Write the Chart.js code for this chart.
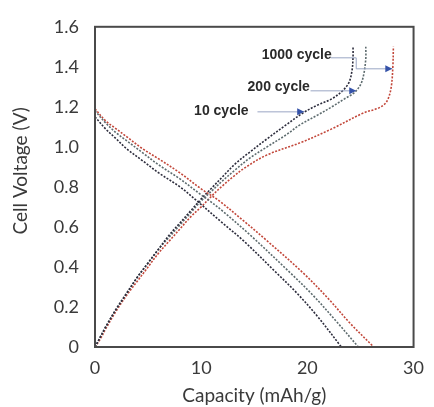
<!DOCTYPE html>
<html>
<head>
<meta charset="utf-8">
<script src="https://cdn.jsdelivr.net/npm/chart.js@4"></script>
<style>
  html, body { margin: 0; padding: 0; background: #fff; }
  #wrap { width: 434px; height: 407px; }
</style>
</head>
<body>
<div id="wrap"><canvas id="graph"></canvas></div>
<script>
// discharge curves (capacity mAh/g, voltage V)
const dis10Cap = [0, 1, 2, 3, 4.5, 6, 8, 9.6, 12, 14, 17.1, 19, 21, 23.2];
const dis10V = [1.15, 1.09, 1.04, 0.99, 0.93, 0.87, 0.80, 0.73, 0.62, 0.53, 0.37, 0.27, 0.15, 0];
const dis200Cap = [0, 1, 2, 3, 4.5, 6, 8, 10, 10.8, 12, 14.6, 18.4, 20.5, 22.7, 24.8];
const dis200V = [1.18, 1.12, 1.07, 1.03, 0.97, 0.91, 0.84, 0.76, 0.73, 0.68, 0.56, 0.37, 0.26, 0.13, 0];
const dis1000Cap = [0, 1, 2, 3, 4.5, 6, 8, 10, 11.7, 14, 16, 19.6, 22, 24, 26.25];
const dis1000V = [1.19, 1.13, 1.09, 1.05, 0.99, 0.94, 0.87, 0.79, 0.73, 0.63, 0.54, 0.37, 0.24, 0.12, 0];

// charge curves
const ch10Cap = [0, 0.5, 1, 2, 3, 4, 5, 6, 7, 8, 9, 10, 11, 12, 13.2, 14.6, 16.2, 18, 19.6, 21, 22.3, 23.3, 23.9, 24.2, 24.3, 24.3];
const ch10V = [0, 0.05, 0.1, 0.19, 0.27, 0.35, 0.42, 0.49, 0.56, 0.62, 0.68, 0.74, 0.795, 0.85, 0.915, 0.975, 1.04, 1.11, 1.17, 1.21, 1.24, 1.28, 1.32, 1.38, 1.45, 1.5];
const ch200Cap = [0, 0.5, 1, 2, 3, 4, 5, 6, 7, 8, 9, 10, 11, 12, 13.2, 14.6, 16.2, 18, 19.3, 21, 22.3, 23.5, 24.4, 25, 25.3, 25.5, 25.5];
const ch200V = [0, 0.05, 0.1, 0.19, 0.27, 0.35, 0.42, 0.49, 0.55, 0.61, 0.67, 0.73, 0.78, 0.83, 0.885, 0.945, 1.0, 1.06, 1.11, 1.16, 1.20, 1.24, 1.27, 1.31, 1.36, 1.44, 1.5];
const ch1000Cap = [0, 0.5, 1, 2, 3, 4, 5, 6, 7, 8, 9, 10, 11, 12, 13, 14.1, 16.2, 19.3, 22.3, 25.3, 26.5, 27.2, 27.6, 27.9, 28.05, 28.1];
const ch1000V = [0, 0.04, 0.09, 0.18, 0.26, 0.33, 0.40, 0.47, 0.53, 0.59, 0.65, 0.70, 0.755, 0.805, 0.85, 0.895, 0.96, 1.02, 1.09, 1.17, 1.19, 1.21, 1.24, 1.30, 1.40, 1.5];

// annotations (data units)
const noteText = ['10 cycle', '200 cycle', '1000 cycle'];
const noteCap = [11.9, 17.3, 19.0];
const noteV = [1.18, 1.30, 1.46];
const arrow10Cap = [15.3, 19.7];
const arrow10V = [1.175, 1.175];
const arrow200Cap = [20.3, 24.6];
const arrow200V = [1.28, 1.28];
const arrow1000Cap = [22.2, 24.6, 24.6, 28.0];
const arrow1000V = [1.445, 1.445, 1.39, 1.39];

const yTicks = [0, 0.2, 0.4, 0.6, 0.8, 1.0, 1.2, 1.4, 1.6];
const xTicks = [0, 10, 20, 30];

const colDark = '#2c2c3c';
const colMid = '#5d6b6e';
const colRed = '#c2473a';

function pts(xs, ys) {
    return xs.map((x, i) => ({ x: x, y: ys[i] }));
}

function curve(label, xs, ys, color) {
    return {
        label: label,
        data: pts(xs, ys),
        borderColor: color,
        borderWidth: 1.6,
        borderDash: [2, 1.5],
        pointRadius: 0,
        fill: false,
        tension: 0.35
    };
}

const framePlugin = {
    id: 'frame',
    afterDatasetsDraw(chart) {
        const a = chart.chartArea;
        const ctx = chart.ctx;
        ctx.save();
        ctx.strokeStyle = '#4a4a4a';
        ctx.lineWidth = 2;
        ctx.strokeRect(a.left, a.top, a.right - a.left, a.bottom - a.top);
        // y axis title, sits a bit above the middle like the original
        ctx.translate(21, chart.scales.y.getPixelForValue(0.88));
        ctx.rotate(-Math.PI / 2);
        ctx.font = 'normal 19px Lato';
        ctx.fillStyle = '#3a3a3a';
        ctx.textAlign = 'center';
        ctx.textBaseline = 'middle';
        ctx.fillText('Cell Voltage (V)', 0, 0);
        ctx.restore();
    }
};

const notesPlugin = {
    id: 'notes',
    afterDatasetsDraw(chart) {
        const ctx = chart.ctx;
        const xs = chart.scales.x;
        const ys = chart.scales.y;
        ctx.save();
        ctx.font = 'bold 14px "Liberation Sans", Arial, sans-serif';
        ctx.fillStyle = '#2a2a2a';
        ctx.textAlign = 'center';
        ctx.textBaseline = 'middle';
        noteText.forEach((t, i) => {
            ctx.fillText(t, xs.getPixelForValue(noteCap[i]), ys.getPixelForValue(noteV[i]));
        });
        [[arrow10Cap, arrow10V], [arrow200Cap, arrow200V], [arrow1000Cap, arrow1000V]].forEach(ar => {
            const px = ar[0].map(v => xs.getPixelForValue(v));
            const py = ar[1].map(v => ys.getPixelForValue(v));
            ctx.strokeStyle = '#9aa6c4';
            ctx.lineWidth = 1;
            ctx.beginPath();
            ctx.moveTo(px[0], py[0]);
            for (let i = 1; i < px.length; i++) ctx.lineTo(px[i], py[i]);
            ctx.stroke();
            const n = px.length - 1;
            ctx.fillStyle = '#3552a8';
            ctx.beginPath();
            ctx.moveTo(px[n], py[n]);
            ctx.lineTo(px[n] - 7, py[n] - 3.5);
            ctx.lineTo(px[n] - 7, py[n] + 3.5);
            ctx.closePath();
            ctx.fill();
        });
        ctx.restore();
    }
};

const ctx = document.getElementById('graph').getContext('2d');
const chart = new Chart(ctx, {
    type: 'line',
    data: {
        datasets: [
            curve('10 cycle discharge', dis10Cap, dis10V, colDark),
            curve('200 cycle discharge', dis200Cap, dis200V, colMid),
            curve('1000 cycle discharge', dis1000Cap, dis1000V, colRed),
            curve('10 cycle charge', ch10Cap, ch10V, colDark),
            curve('200 cycle charge', ch200Cap, ch200V, colMid),
            curve('1000 cycle charge', ch1000Cap, ch1000V, colRed)
        ]
    },
    options: {
        responsive: true,
        maintainAspectRatio: false,
        animation: false,
        layout: { padding: { top: 24, right: 10, left: 0, bottom: 0 } },
        plugins: {
            legend: { display: false },
            tooltip: { enabled: false }
        },
        scales: {
            x: {
                type: 'linear',
                min: 0,
                max: 30,
                afterBuildTicks: axis => { axis.ticks = xTicks.map(v => ({ value: v })); },
                afterFit: axis => { axis.height = 60; },
                grid: { display: false, drawTicks: false },
                border: { display: false },
                ticks: {
                    padding: 10,
                    color: '#3a3a3a',
                    font: { family: 'Lato', size: 18 }
                },
                title: {
                    display: true,
                    text: 'Capacity (mAh/g)',
                    color: '#3a3a3a',
                    font: { family: 'Lato', size: 19 },
                    padding: { top: 0, bottom: 0 }
                }
            },
            y: {
                type: 'linear',
                min: 0,
                max: 1.6,
                afterBuildTicks: axis => { axis.ticks = yTicks.map(v => ({ value: v })); },
                afterFit: axis => { axis.width = 95; },
                grid: { display: false, drawTicks: false },
                border: { display: false },
                ticks: {
                    padding: 16,
                    color: '#3a3a3a',
                    font: { family: 'Lato', size: 18 },
                    callback: v => v === 0 ? '0' : v.toFixed(1)
                }
            }
        }
    },
    plugins: [framePlugin, notesPlugin]
});
</script>
</body>
</html>
